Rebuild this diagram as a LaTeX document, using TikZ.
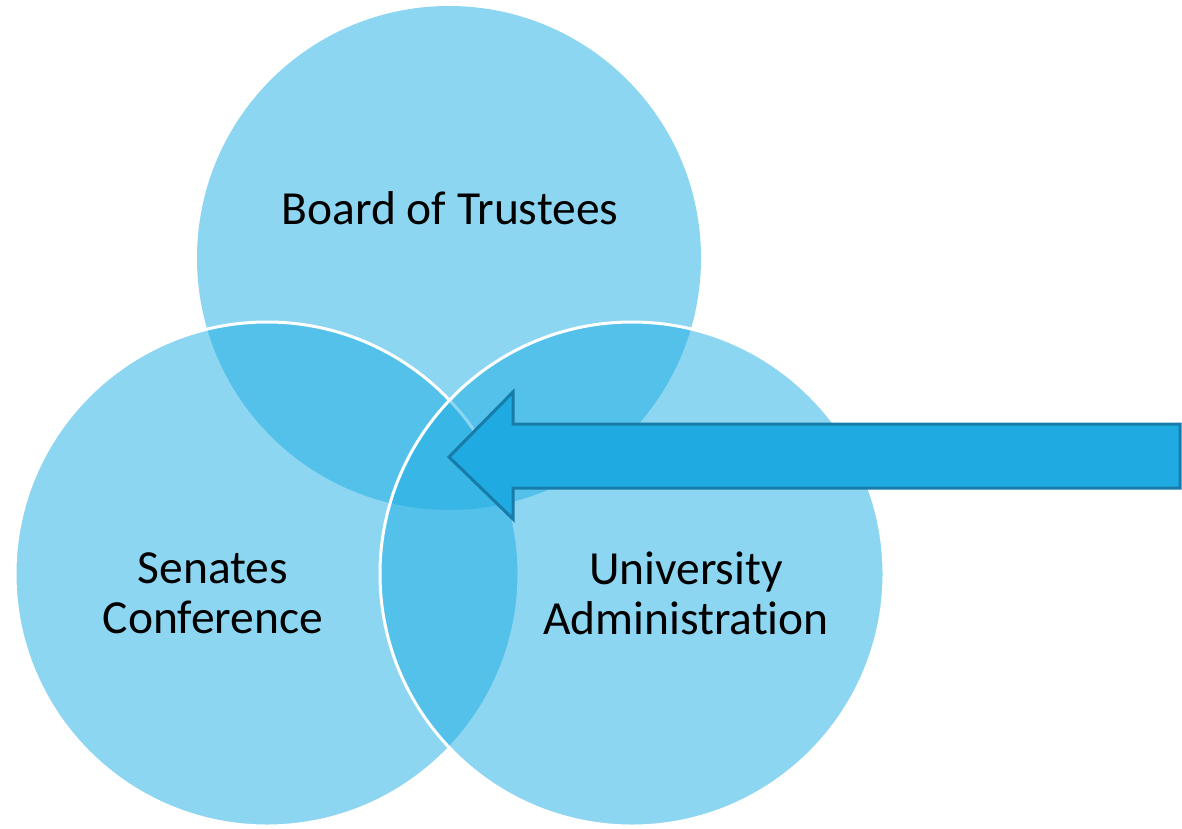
\documentclass[tikz,border=0pt]{standalone}
\usepackage{fontspec}
\setmainfont{Carlito}[Ligatures=NoCommon]
\definecolor{vennblue}{HTML}{1CADE4}
\definecolor{arrowfill}{HTML}{1FAAE1}
\definecolor{arrowedge}{HTML}{187CAA}
\tikzset{
  venn/.style={fill=vennblue, fill opacity=0.5},
  vennedge/.style={venn, draw=white, draw opacity=1, line width=3pt},
  label/.style={font=\fontsize{47.5}{50}\selectfont, align=center, text=black},
  bigarrow/.style={fill=arrowfill, draw=arrowedge, line width=3pt, line join=miter}
}
\begin{document}
\begin{tikzpicture}[x=1pt,y=-1pt]
\useasboundingbox (0,0) rectangle (1182,829);
\fill[venn] (449,258) circle[radius=252pt];
\filldraw[vennedge] (267,574) circle[radius=252pt];
\filldraw[vennedge] (632,574) circle[radius=252pt];
\coordinate (tip) at (449,457);
\coordinate (ht) at (513,392);
\coordinate (st) at (513,424);
\coordinate (et) at (1180,424);
\coordinate (eb) at (1180,488);
\coordinate (sb) at (513,488);
\coordinate (hb) at (513,519);
\draw[bigarrow] (tip) -- (ht) -- (st) -- (et) -- (eb) -- (sb) -- (hb) -- cycle;
\node[label] (board) at (450,208) {Board of Trustees};
\node[label] (senates) at (213,593) {Senates\\Conference};
\node[label] (univ) at (686,593) {University\\Administration};
\end{tikzpicture}
\end{document}
